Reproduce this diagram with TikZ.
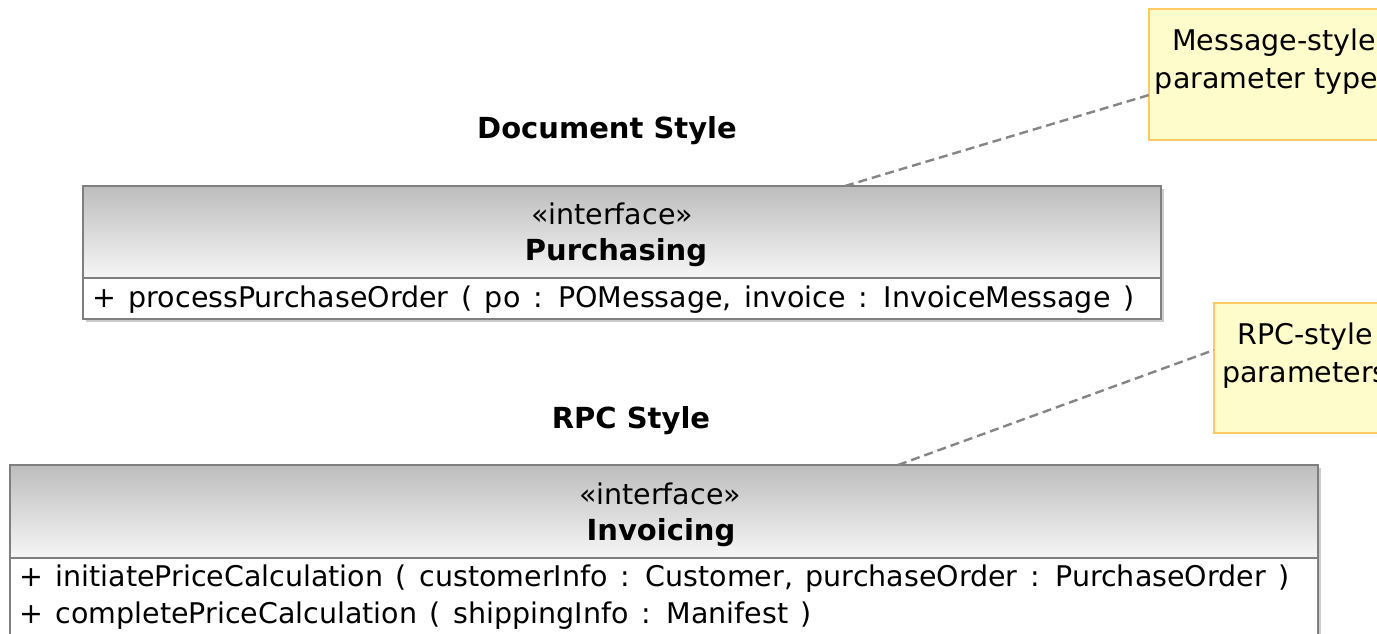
\documentclass[tikz,border=0pt]{standalone}
\usepackage{fontspec}
\setmainfont{DejaVu Sans}
\definecolor{hdrtop}{HTML}{BDBDBD}
\definecolor{hdrbot}{HTML}{F6F6F6}
\definecolor{boxline}{HTML}{7F7F7F}
\definecolor{notefill}{HTML}{FFFCCC}
\definecolor{noteline}{HTML}{FFC966}
\definecolor{dashcol}{HTML}{858585}
\newlength{\myopspace}
\setlength{\myopspace}{12.6pt}
\newcommand{\myopfont}{\fontsize{28.5}{38}\selectfont\spaceskip=\myopspace\relax}
\tikzset{
  hdr/.style={draw=boxline, line width=1.6pt, top color=hdrtop, bottom color=hdrbot},
  ops/.style={draw=boxline, line width=1.6pt, fill=white},
  notebox/.style={draw=noteline, line width=1.8pt, fill=notefill},
  anchorline/.style={draw=dashcol, line width=2.4pt, dash pattern=on 9pt off 5pt},
  txt/.style={inner sep=0pt, font=\fontsize{28.5}{38}\selectfont},
  opline/.style={inner sep=0pt, anchor=west, font=\myopfont},
  ttl/.style={inner sep=0pt, font=\fontsize{29}{34}\selectfont\bfseries},
}
\begin{document}
\begin{tikzpicture}[x=1pt,y=-1pt]
\useasboundingbox (0,0) rectangle (1377,634);
\clip (0,0) rectangle (1377,634);
\fill[white] (0,0) rectangle (1377,634);
% notes
\draw[notebox] (1149,9) rectangle (1400,140);
\node[txt, align=center] (n1) at (1274,62) {Message-style\\parameter types};
\draw[notebox] (1214,303) rectangle (1400,433);
\node[txt, align=center] (n2) at (1305,356) {RPC-style\\parameters};
% titles
\node[ttl] (t1) at (607,131) {Document Style};
\node[ttl] (t2) at (631,421) {RPC Style};
% Purchasing
\fill[boxline!40] (86,189) rectangle (1164,322);
\draw[hdr] (83,186) rectangle (1161,278);
\draw[ops] (83,278) rectangle (1161,319);
\coordinate (p1) at (845,186);
\node[txt] (s1) at (612,214) {«interface»};
\node[ttl] (c1) at (616,253) {Purchasing};
\node[opline] (o1) at (92,300) {+ processPurchaseOrder ( po : POMessage, invoice : InvoiceMessage )};
% Invoicing
\fill[boxline!40] (13,468) rectangle (1321,640);
\draw[hdr] (10,465) rectangle (1318,558);
\draw[ops] (10,558) rectangle (1318,650);
\coordinate (p2) at (898,465);
\node[txt] (s2) at (660,494) {«interface»};
\node[ttl] (c2) at (661,533) {Invoicing};
\node[opline] (o2) at (19,579) {+ initiatePriceCalculation ( customerInfo : Customer, purchaseOrder : PurchaseOrder )};
\node[opline] (o3) at (19,616) {+ completePriceCalculation ( shippingInfo : Manifest )};
% anchors
\coordinate (q1) at (1149,95);
\coordinate (q2) at (1214,350);
\draw[anchorline] (p1) -- (q1);
\draw[anchorline] (p2) -- (q2);
\end{tikzpicture}
\end{document}
